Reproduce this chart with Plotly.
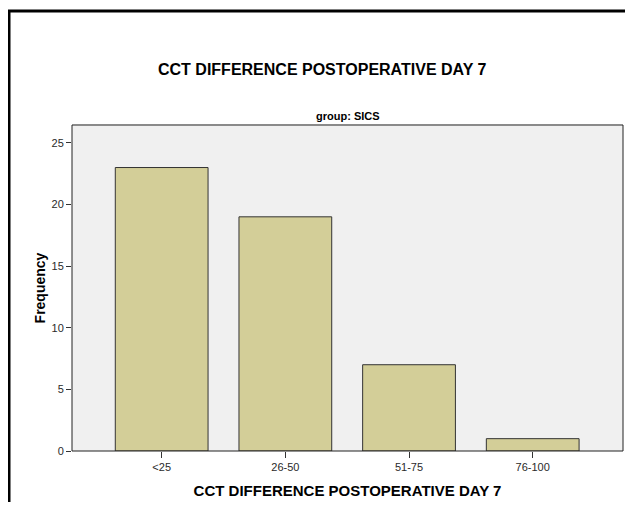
import plotly.graph_objects as go

# data
categories = ["<25", "26-50", "51-75", "76-100"]
frequency = [23, 19, 7, 1]
y_ticks = [0, 5, 10, 15, 20, 25]

title_text = "CCT DIFFERENCE POSTOPERATIVE DAY 7"
panel_text = "group: SICS"

# the page body adds an 8px margin, so the figure is sized to fit inside it
W, H = 625, 499
L, R, T, B = 64, 10, 117, 58 - 8
pw, ph = W - L - R, H - T - B


def px(x):
    return (x - L) / pw


def py(y):
    return (H - B - y) / ph


fig = go.Figure()
fig.add_trace(go.Bar(
    x=list(range(len(categories))), y=frequency, width=0.75,
    marker=dict(color="#d3ce98", line=dict(color="#333333", width=1)),
    hoverinfo="y",
))

font = "Liberation Sans, Arial, sans-serif"

fig.update_layout(
    width=W, height=H,
    margin=dict(l=L, r=R, t=T, b=B),
    paper_bgcolor="white", plot_bgcolor="#f0f0f0",
    showlegend=False,
    font=dict(family=font, size=11, color="#2a2a2a"),
    xaxis=dict(
        range=[-0.725, 3.73], tickvals=list(range(len(categories))),
        ticktext=categories, showgrid=False, zeroline=False,
        ticks="outside", ticklen=6, tickcolor="#333333",
        showline=False,
        title=dict(text="<b>" + title_text + "</b>", font=dict(size=15, color="black"), standoff=13),
    ),
    yaxis=dict(
        range=[0, 26.45], tickvals=y_ticks, showgrid=False, zeroline=False,
        ticks="outside", ticklen=5, tickcolor="#333333",
        showline=False,
        title=dict(text="<b>Frequency</b>", font=dict(size=14, color="black"), standoff=2),
    ),
    annotations=[
        dict(text="<b>" + title_text + "</b>", xref="paper", yref="paper",
             x=px(314), y=py(60), showarrow=False,
             xanchor="center", yanchor="middle", font=dict(size=16, color="black")),
        dict(text="<b>" + panel_text + "</b>", xref="paper", yref="paper",
             x=0.5, y=py(108), showarrow=False,
             xanchor="center", yanchor="middle", font=dict(size=11, color="black")),
    ],
    shapes=[
        # plot frame
        dict(type="line", xref="paper", yref="paper", x0=0, x1=1, y0=1, y1=1,
             line=dict(color="#8a8a8a", width=2)),
        dict(type="line", xref="paper", yref="paper", x0=0, x1=0, y0=0, y1=1,
             line=dict(color="#222222", width=1)),
        dict(type="line", xref="paper", yref="paper", x0=1, x1=1, y0=0, y1=1,
             line=dict(color="#222222", width=1)),
        dict(type="line", xref="paper", yref="paper", x0=0, x1=1, y0=0, y1=0,
             line=dict(color="#222222", width=1)),
        # outer chart border (left and top)
        dict(type="line", xref="paper", yref="paper",
             x0=px(1), x1=px(1), y0=py(0), y1=py(H + 2),
             line=dict(color="black", width=3)),
        dict(type="line", xref="paper", yref="paper",
             x0=px(0), x1=px(W + 2), y0=py(1), y1=py(1),
             line=dict(color="black", width=3)),
    ],
)

fig.write_html("out.html")
